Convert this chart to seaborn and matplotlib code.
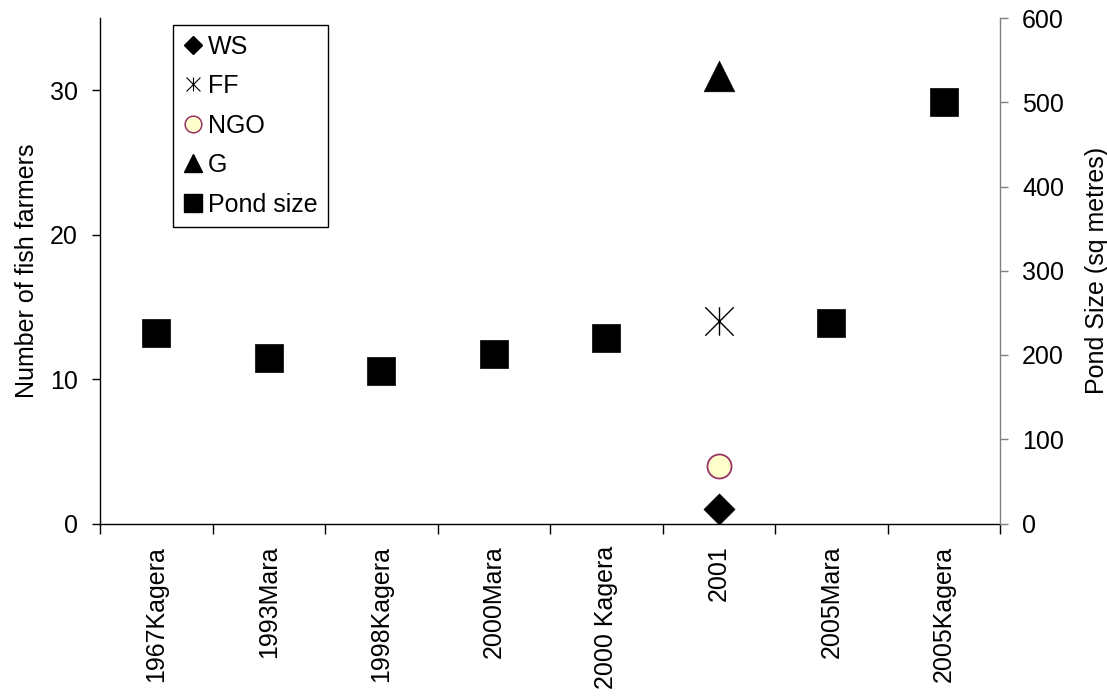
import numpy as np
import pandas as pd
import matplotlib
matplotlib.use("Agg")
import matplotlib.pyplot as plt
from matplotlib.lines import Line2D
from matplotlib.path import Path
from matplotlib.ticker import FixedLocator, NullFormatter, FixedFormatter
import seaborn as sns

# Sites / years along the x axis
categories = ["1967Kagera", "1993Mara", "1998Kagera", "2000Mara",
              "2000 Kagera", "2001", "2005Mara", "2005Kagera"]

# Pond size (sq metres), right axis
pond_sites = ["1967Kagera", "1993Mara", "1998Kagera", "2000Mara",
              "2000 Kagera", "2005Mara", "2005Kagera"]
pond_size = [226, 197, 181, 201, 220, 238, 500]

# Number of fish farmers by source of fingerlings, left axis
farmer_sites = ["2001"]
ws = [1]
ff = [14]
ngo = [4]
g = [31]

sns.set_theme(style="white")
plt.rcParams["font.family"] = ["Liberation Sans", "DejaVu Sans"]
plt.rcParams["text.color"] = "black"
plt.rcParams["axes.labelcolor"] = "black"
plt.rcParams["xtick.color"] = "black"
plt.rcParams["ytick.color"] = "black"
FS = 18

pos = {c: i for i, c in enumerate(categories)}

pond_df = pd.DataFrame({"x": [pos[c] for c in pond_sites], "y": pond_size})
ws_df = pd.DataFrame({"x": [pos[c] for c in farmer_sites], "y": ws})
ff_df = pd.DataFrame({"x": [pos[c] for c in farmer_sites], "y": ff})
ngo_df = pd.DataFrame({"x": [pos[c] for c in farmer_sites], "y": ngo})
g_df = pd.DataFrame({"x": [pos[c] for c in farmer_sites], "y": g})

asterisk = Path([(0, -1), (0, 1), (-1, -1), (1, 1), (-1, 1), (1, -1)],
                [Path.MOVETO, Path.LINETO] * 3)

fig = plt.figure(figsize=(11.07, 6.98), dpi=100)
ax = fig.add_axes([100 / 1107, 1 - 523.5 / 698, 900 / 1107, 505.5 / 698])
ax2 = ax.twinx()

sns.scatterplot(data=ws_df, x="x", y="y", ax=ax, marker="D", s=250,
                color="black", edgecolor="black", linewidth=0.5, legend=False)
sns.scatterplot(data=ff_df, x="x", y="y", ax=ax, marker=asterisk, s=420,
                color="black", edgecolor="black", linewidth=1.0, legend=False)
sns.scatterplot(data=ngo_df, x="x", y="y", ax=ax, marker="o", s=300,
                color="#FFFFCC", edgecolor="#993366", linewidth=1.3, legend=False)
sns.scatterplot(data=g_df, x="x", y="y", ax=ax, marker="^", s=484,
                color="black", edgecolor="black", linewidth=0.5, legend=False)
sns.scatterplot(data=pond_df, x="x", y="y", ax=ax2, marker="s", s=430,
                color="black", edgecolor="black", linewidth=0.5, legend=False)

n = len(categories)
ax.set_xlim(-0.5, n - 0.5)
ax.set_ylim(0, 35)
ax2.set_ylim(0, 600)

# x axis: labels at category centres, tick marks on the boundaries
ax.xaxis.set_major_locator(FixedLocator(np.arange(n)))
ax.xaxis.set_major_formatter(FixedFormatter(categories))
ax.xaxis.set_minor_locator(FixedLocator(np.arange(n + 1) - 0.5))
ax.xaxis.set_minor_formatter(NullFormatter())
ax.tick_params(axis="x", which="major", length=0, pad=16, labelsize=FS,
               labelrotation=90, labelcolor="black")
ax.tick_params(axis="x", which="minor", length=7, width=1, direction="out",
               color="black", bottom=True)

ax.set_yticks([0, 10, 20, 30])
ax.tick_params(axis="y", length=6, width=1, direction="out", color="black",
               labelsize=FS, pad=10, left=True, labelcolor="black")
ax2.set_yticks(np.arange(0, 601, 100))
ax2.tick_params(axis="y", length=6, width=1, direction="out", color="#808080",
                labelsize=FS, pad=10, right=True, labelcolor="black")

ax.set_xlabel("")
ax.set_ylabel("Number of fish farmers", fontsize=FS, color="black", labelpad=8)
ax2.set_xlabel("")
ax2.set_ylabel("Pond Size (sq metres)", fontsize=FS, color="black", labelpad=15)

for a in (ax, ax2):
    a.spines["top"].set_visible(False)
    a.grid(False)
    a.set_facecolor("none")
ax.spines["right"].set_visible(False)
ax.spines["left"].set_color("black")
ax.spines["bottom"].set_color("black")
ax.spines["left"].set_linewidth(1)
ax.spines["bottom"].set_linewidth(1)
ax2.spines["left"].set_visible(False)
ax2.spines["bottom"].set_visible(False)
ax2.spines["right"].set_color("#808080")
ax2.spines["right"].set_linewidth(1)

handles = [
    Line2D([], [], linestyle="none", marker="D", markersize=9.5,
           markerfacecolor="black", markeredgecolor="black"),
    Line2D([], [], linestyle="none", marker=asterisk, markersize=10,
           markerfacecolor="black", markeredgecolor="black", markeredgewidth=0.8),
    Line2D([], [], linestyle="none", marker="o", markersize=12,
           markerfacecolor="#FFFFCC", markeredgecolor="#993366", markeredgewidth=1.1),
    Line2D([], [], linestyle="none", marker="^", markersize=13,
           markerfacecolor="black", markeredgecolor="black"),
    Line2D([], [], linestyle="none", marker="s", markersize=12.5,
           markerfacecolor="black", markeredgecolor="black"),
]
labels = ["WS", "FF", "NGO", "G", "Pond size"]
leg = ax2.legend(handles, labels, loc="upper left",
                 bbox_to_anchor=(72.7 / 900, (523.5 - 24.7) / 505.5),
                 borderaxespad=0, frameon=True, fancybox=False, fontsize=FS,
                 handlelength=0.82, handletextpad=0.2, labelspacing=0.62,
                 borderpad=0.4)
leg.get_frame().set_edgecolor("black")
leg.get_frame().set_linewidth(1)
leg.get_frame().set_facecolor("white")
leg.get_frame().set_alpha(1)

fig.savefig("out.png", dpi=100, facecolor="white")
